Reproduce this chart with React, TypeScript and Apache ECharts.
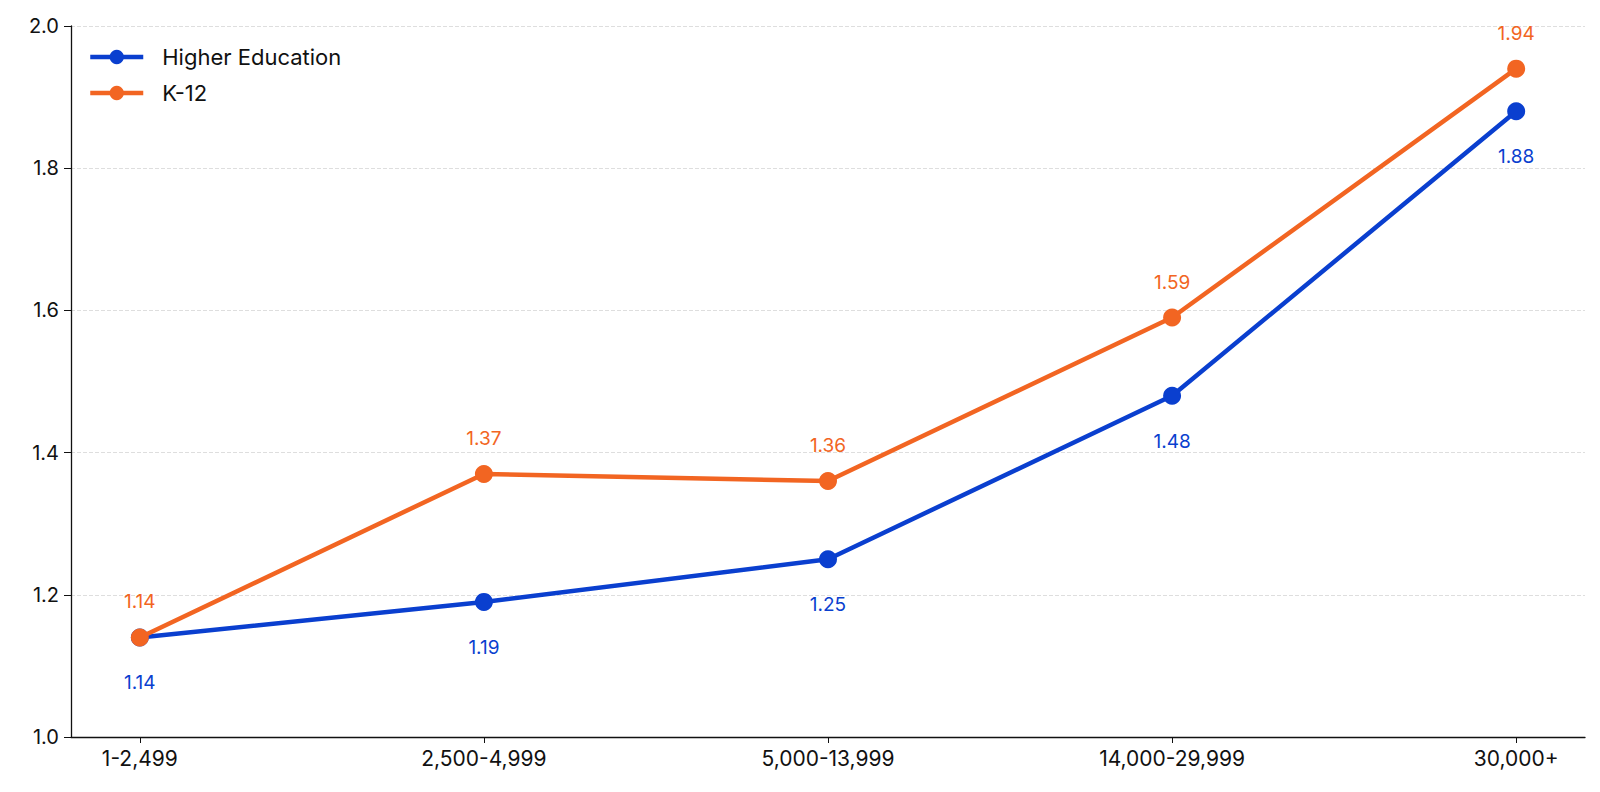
import React, { useEffect, useRef } from "react";
import * as echarts from "echarts";

const categories = ["1-2,499", "2,500-4,999", "5,000-13,999", "14,000-29,999", "30,000+"];
const higherEd = [1.14, 1.19, 1.25, 1.48, 1.88];
const k12 = [1.14, 1.37, 1.36, 1.59, 1.94];
const seriesNames = ["Higher Education", "K-12"];
const yTicks = [1.0, 1.2, 1.4, 1.6, 1.8, 2.0];

const BLUE = "#0a3fcf";
const ORANGE = "#f26522";
const FONT = "Inter, 'Noto Sans', sans-serif";

export default function App() {
  const ref = useRef<HTMLDivElement>(null);
  useEffect(() => {
    if (!ref.current) return;
    const chart = echarts.init(ref.current, null, { renderer: "svg" });
    const idx = categories.map((_, i) => i);
    chart.setOption({
      animation: false,
      textStyle: { fontFamily: FONT },
      grid: { left: 63, right: 7, top: 18, bottom: 47, containLabel: false },
      legend: {
        left: 75,
        top: 33,
        orient: "vertical",
        itemWidth: 53,
        itemHeight: 18,
        itemGap: 14,
        lineStyle: { width: 4.5 },
        textStyle: { fontSize: 22, color: "#111", fontFamily: FONT, padding: [0, 0, 0, 14] },
        data: seriesNames,
      },
      xAxis: {
        type: "value",
        min: -0.2,
        max: 4.2,
        splitLine: { show: false },
        axisLine: { show: true, onZero: false, lineStyle: { color: "#111", width: 1.3 } },
        axisTick: { show: true, customValues: idx, length: 6, lineStyle: { color: "#111" } },
        axisLabel: {
          customValues: idx,
          formatter: (v: number) => categories[Math.round(v)] ?? "",
          fontSize: 21,
          color: "#111",
          margin: 11,
          fontFamily: FONT,
        },
      },
      yAxis: {
        type: "value",
        min: yTicks[0],
        max: yTicks[yTicks.length - 1],
        interval: 0.2,
        axisLine: { show: true, onZero: false, lineStyle: { color: "#111", width: 1.3 } },
        axisTick: { show: true, length: 7, lineStyle: { color: "#111" } },
        axisLabel: {
          formatter: (v: number) => v.toFixed(1),
          fontSize: 20,
          color: "#111",
          margin: 12,
          fontFamily: FONT,
        },
        splitLine: { show: true, lineStyle: { type: "dashed", color: "#dedede", width: 1 } },
      },
      series: [
        {
          name: seriesNames[0],
          type: "line",
          data: higherEd.map((v, i) => [i, v]),
          symbol: "circle",
          symbolSize: 18,
          lineStyle: { width: 4.5, color: BLUE },
          itemStyle: { color: BLUE },
          label: {
            show: true,
            position: "bottom",
            distance: 27,
            color: BLUE,
            fontSize: 19,
            fontFamily: FONT,
            formatter: (p: any) => p.value[1].toFixed(2),
          },
          z: 2,
        },
        {
          name: seriesNames[1],
          type: "line",
          data: k12.map((v, i) => [i, v]),
          symbol: "circle",
          symbolSize: 18,
          lineStyle: { width: 4.5, color: ORANGE },
          itemStyle: { color: ORANGE },
          label: {
            show: true,
            position: "top",
            distance: 17,
            color: ORANGE,
            fontSize: 19,
            fontFamily: FONT,
            formatter: (p: any) => p.value[1].toFixed(2),
          },
          z: 3,
        },
      ],
    });
    return () => chart.dispose();
  }, []);
  return <div ref={ref} style={{ width: 1584, height: 776 }} />;
}
